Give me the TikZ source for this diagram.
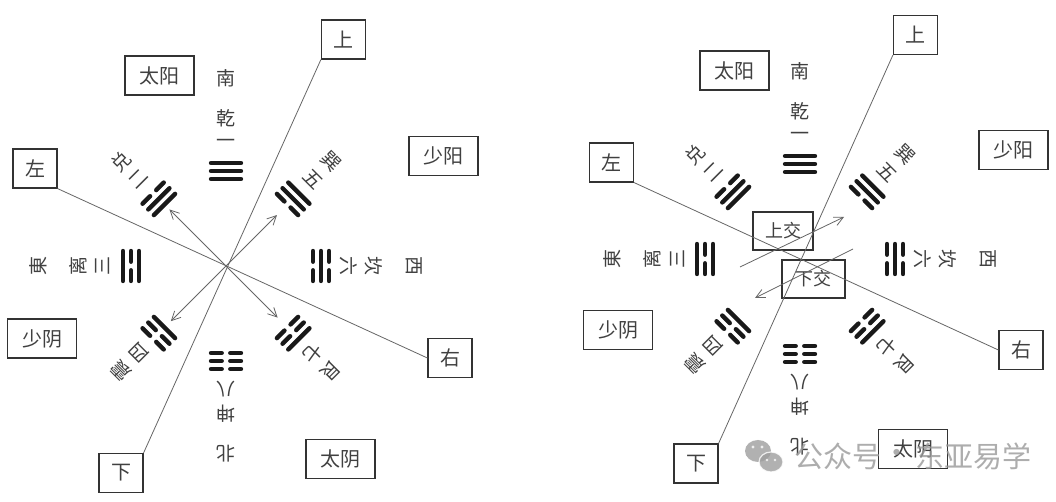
\documentclass[tikz,border=0pt]{standalone}
\usepackage{fontspec}
\setmainfont{Noto Sans CJK SC}
\usetikzlibrary{arrows.meta}
\tikzset{
  yao/.style={line width=4.4pt, line cap=round, draw=black!90},
  lab/.style={font=\fontsize{19}{19}\selectfont, text=black!75, inner sep=0pt},
  boxnode/.style={draw=black!80, line width=1.2pt, font=\fontsize{20}{20}\selectfont, text=black!75, minimum height=39pt, inner sep=0pt},
  sqbox/.style={boxnode, minimum width=44pt},
  widebox/.style={boxnode, minimum width=69pt},
  jiaobox/.style={boxnode, minimum height=38pt, font=\fontsize{18}{18}\selectfont},
  conn/.style={draw=black!60, line width=0.8pt},
  arr/.style={conn, -{Straight Barb[length=9pt,width=9pt]}},
  wmtext/.style={font=\fontsize{29}{29}\selectfont, text=black!40, inner sep=0pt},
}
\newcommand\yaoline[2]{\ifnum#2=1\relax\draw[yao] (-15,#1)--(15,#1);\else\draw[yao] (-15,#1)--(-4.3,#1) (4.3,#1)--(15,#1);\fi}
\newcommand\guagroup[9]{%
 \begin{scope}[shift={(#1)}, rotate={#2-90}]
  \yaoline{87}{#3}\yaoline{95}{#4}\yaoline{103}{#5}
  \node[lab,transform shape] (#9n) at (0,123) {#6};
  \node[lab,transform shape] (#9m) at (0,148) {#7};
  \if\relax\detokenize{#8}\relax\else
  \node[lab,transform shape] (#9d) at (0,188) {#8};\fi
 \end{scope}}
\newcommand\bagua[2]{% #1 center, #2 prefix
  \guagroup{#1}{90}{1}{1}{1}{一}{乾}{南}{#2qian}
  \guagroup{#1}{135}{1}{1}{0}{二}{兑}{}{#2dui}
  \guagroup{#1}{180}{1}{0}{1}{三}{离}{東}{#2li}
  \guagroup{#1}{225}{1}{0}{0}{四}{震}{}{#2zhen}
  \guagroup{#1}{45}{0}{1}{1}{五}{巽}{}{#2xun}
  \guagroup{#1}{0}{0}{1}{0}{六}{坎}{西}{#2kan}
  \guagroup{#1}{-45}{0}{0}{1}{七}{艮}{}{#2gen}
  \guagroup{#1}{270}{0}{0}{0}{八}{坤}{北}{#2kun}}
\begin{document}
\begin{tikzpicture}[x=1pt,y=1pt]
\useasboundingbox (0,0) rectangle (1056,502);
\fill[white] (0,0) rectangle (1056,502);

% ---------- left diagram ----------
\coordinate (c1) at (226,236);
\node[sqbox] (up1) at (343.5,462.5) {上};
\node[sqbox] (left1) at (35,333.5) {左};
\node[sqbox] (down1) at (121,29) {下};
\node[sqbox] (right1) at (450,144) {右};
\node[widebox] (ty1) at (159.5,426.5) {太阳};
\node[widebox] (sy1) at (443.5,346) {少阳};
\node[widebox] (sn1) at (42,163.5) {少阴};
\node[widebox] (tn1) at (340.5,43) {太阴};
\draw[conn] (up1.south west) -- (down1.north east);
\draw[conn] (left1.south east) -- (right1.west);
\coordinate (t11) at ([shift={(135:80)}]c1);
\coordinate (t12) at ([shift={(45:72)}]c1);
\coordinate (t13) at ([shift={(225:78)}]c1);
\coordinate (t14) at ([shift={(315:73)}]c1);
\draw[arr] (c1) -- (t11);
\draw[arr] (c1) -- (t12);
\draw[arr] (c1) -- (t13);
\draw[arr] (c1) -- (t14);
\bagua{c1}{a}

% ---------- right diagram ----------
\coordinate (c2) at (800,243);
\node[sqbox] (up2) at (915.5,467) {上};
\node[sqbox] (left2) at (611.5,339.5) {左};
\node[sqbox] (down2) at (696,38.5) {下};
\node[sqbox] (right2) at (1021,152) {右};
\node[widebox] (ty2) at (734.5,431.5) {太阳};
\node[widebox] (sy2) at (1013.5,352) {少阳};
\node[widebox] (sn2) at (618,172) {少阴};
\node[widebox] (tn2) at (913,53) {太阴};
\node[jiaobox, minimum width=60pt] (sj) at (783,271) {上交};
\node[jiaobox, minimum width=63pt] (xj) at (813.5,223) {下交};
\draw[conn] (up2.south west) -- (down2.north east);
\draw[conn] (left2.south east) -- (right2.west);
\coordinate (s1) at (740,235);
\coordinate (e1) at (844,285);
\coordinate (s2) at (853,253);
\coordinate (e2) at (755,204);
\draw[arr] (s1) -- (e1);
\draw[arr] (s2) -- (e2);
\bagua{c2}{b}

% ---------- watermark ----------
\begin{scope}[opacity=0.8]
  \fill[black!38] (758,51) ellipse (13 and 11);
  \fill[black!38, draw=white, line width=1.2pt] (771,40) ellipse (12 and 10);
  \fill[white] (753,55) circle (1.6) (762,55) circle (1.6) (767,42) circle (1.4) (775,42) circle (1.4);
  \node[wmtext] (wm1) at (838,46) {公众号};
  \node[wmtext] (wm2) at (897,46) {·};
  \node[wmtext] (wm3) at (973,46) {东亚易学};
\end{scope}
\end{tikzpicture}
\end{document}
